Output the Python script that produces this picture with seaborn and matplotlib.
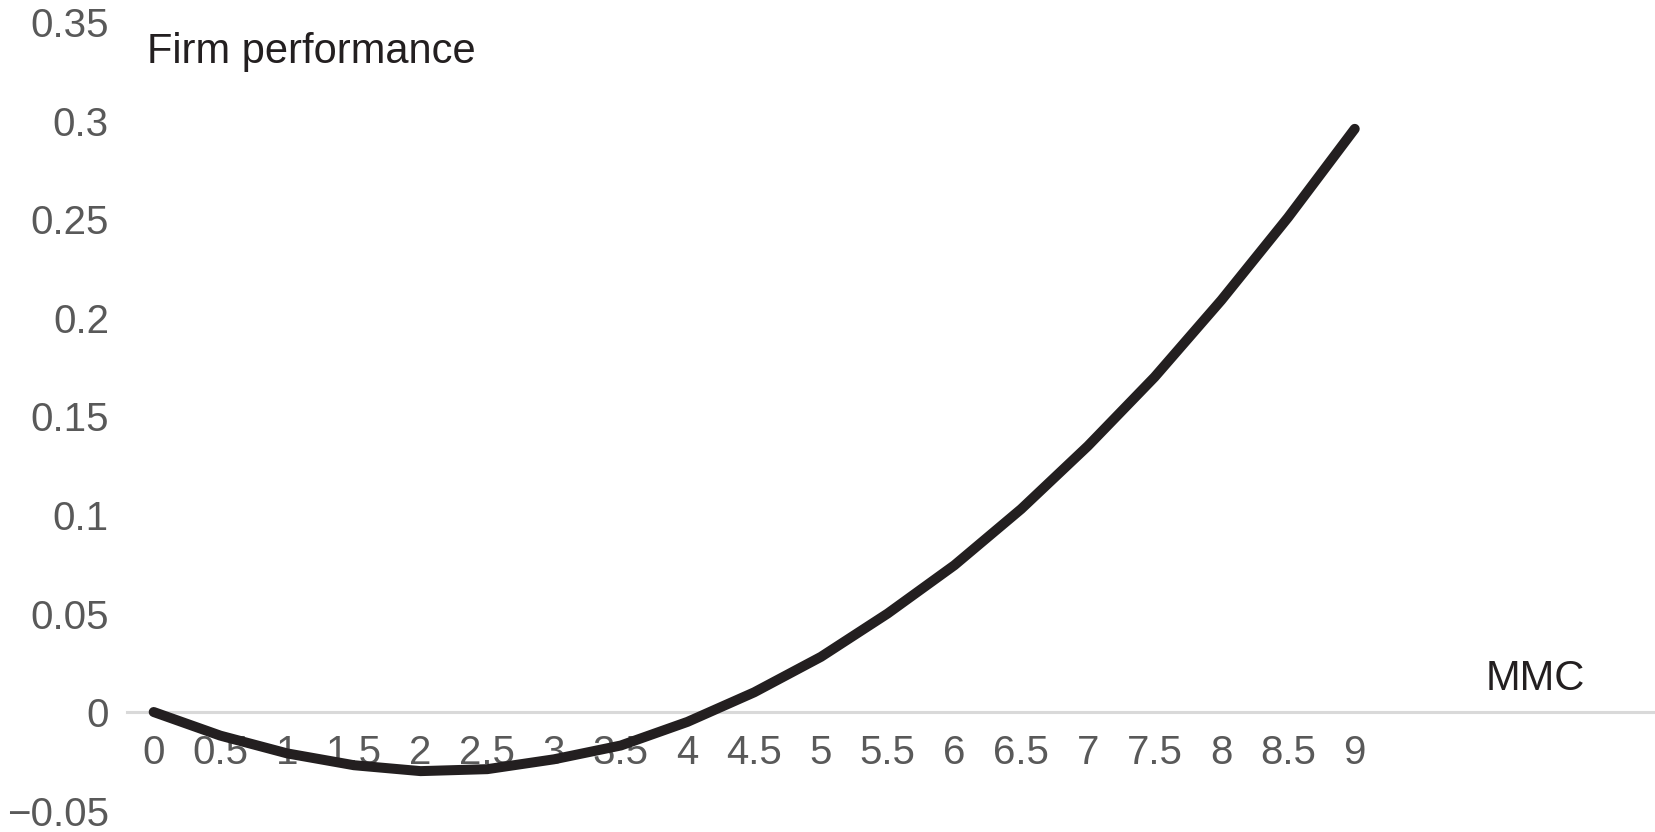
import matplotlib
matplotlib.use("Agg")
import matplotlib.pyplot as plt
import seaborn as sns

# values
mmc = [0, 0.5, 1, 1.5, 2, 2.5, 3, 3.5, 4, 4.5, 5, 5.5, 6, 6.5, 7, 7.5, 8, 8.5, 9]
mmc_labels = ["0", "0.5", "1", "1.5", "2", "2.5", "3", "3.5", "4", "4.5", "5",
              "5.5", "6", "6.5", "7", "7.5", "8", "8.5", "9"]
performance = [0.0, -0.012, -0.021, -0.027, -0.030, -0.029, -0.024, -0.017, -0.005,
               0.010, 0.028, 0.050, 0.0745, 0.103, 0.135, 0.170, 0.209, 0.251, 0.296]
y_ticks = [0.35, 0.3, 0.25, 0.2, 0.15, 0.1, 0.05, 0, -0.05]
y_labels = ["0.35", "0.3", "0.25", "0.2", "0.15", "0.1", "0.05", "0", "\u22120.05"]

sns.set_theme(style="white")
plt.rcParams["font.family"] = ["Liberation Sans", "DejaVu Sans"]

W, H = 1655, 832
fig = plt.figure(figsize=(W / 100, H / 100), dpi=100)
ax = fig.add_axes([127 / W, 0, 1 - 127 / W, 1])

sns.lineplot(x=mmc, y=performance, ax=ax, color="#231f20", linewidth=7.2,
             zorder=5, solid_capstyle="round", solid_joinstyle="round")

ax.set_xlim(-0.2, 11.25)
ax.set_ylim(-0.0609, 0.3614)

for side in ["top", "right", "left"]:
    ax.spines[side].set_visible(False)
ax.spines["bottom"].set_position(("data", 0))
ax.spines["bottom"].set_color("#d9d9d9")
ax.spines["bottom"].set_linewidth(2.2)

ax.set_xticks(mmc)
ax.set_xticklabels(mmc_labels)
ax.set_yticks(y_ticks)
ax.set_yticklabels(y_labels)
ax.tick_params(length=0, labelsize=29, labelcolor="#595959")
ax.tick_params(axis="y", pad=13)
ax.tick_params(axis="x", pad=16)
ax.set_xlabel("")
ax.set_ylabel("")

fig.text(147 / W, 1 - 52 / H, "Firm performance", ha="left", va="center",
         fontsize=30, color="#231f20")
fig.text(1486 / W, 1 - 679 / H, "MMC", ha="left", va="center",
         fontsize=30, color="#231f20")

fig.savefig("out.png", dpi=100)
